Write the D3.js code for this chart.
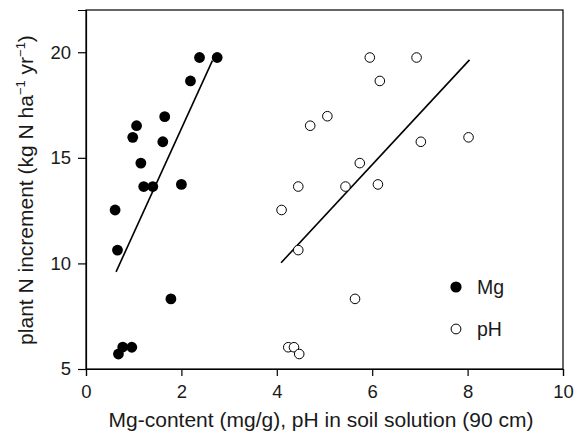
<!DOCTYPE html>
<html>
<head>
<meta charset="utf-8">
<script src="https://cdn.jsdelivr.net/npm/d3@7"></script>
<style>
  html, body { margin: 0; padding: 0; background: #fff; }
  svg { display: block; font-family: "Liberation Sans", Arial, Helvetica, sans-serif; }
</style>
</head>
<body>
<svg id="chart" width="575" height="432"></svg>
<script>
// Mg content (mg/g) against plant N increment
const mgX = [2.38, 2.75, 2.19, 1.65, 1.06, 0.98, 1.61, 1.15, 1.21, 1.40, 2.00, 0.61, 0.66, 1.78, 0.68, 0.77, 0.96];
const mgY = [19.75, 19.75, 18.64, 16.95, 16.52, 15.97, 15.76, 14.75, 13.64, 13.64, 13.74, 12.53, 10.63, 8.32, 5.71, 6.04, 6.03];

// soil solution pH (90 cm) against plant N increment
const phX = [5.95, 6.93, 6.16, 5.06, 4.70, 7.02, 8.02, 5.74, 4.45, 5.44, 6.12, 4.10, 4.45, 5.64, 4.24, 4.36, 4.47];
const phY = [19.75, 19.75, 18.64, 16.97, 16.52, 15.76, 15.97, 14.75, 13.64, 13.64, 13.74, 12.53, 10.63, 8.32, 6.03, 6.03, 5.71];

// fitted regression lines (end points)
const mgFitX = [0.63, 2.65];
const mgFitY = [9.6, 19.6];
const phFitX = [4.09, 8.04];
const phFitY = [10.03, 19.64];

const xTicks = [0, 2, 4, 6, 8, 10];
const yTicks = [5, 10, 15, 20];
const legendLabels = ["Mg", "pH"];

const margin = { left: 86, top: 10, right: 12, bottom: 63 };
const W = 575, H = 432;
const svg = d3.select("#chart");
const ink = "#1a1a1a";

const x = d3.scaleLinear().domain([0, 10]).range([margin.left, W - margin.right]);
const y = d3.scaleLinear().domain([5, 22]).range([H - margin.bottom, margin.top]);

// frame
svg.append("rect")
  .attr("x", x(0)).attr("y", y(22))
  .attr("width", x(10) - x(0)).attr("height", y(5) - y(22))
  .attr("fill", "none").attr("stroke", "#000").attr("stroke-width", 1.2);

// axes
const xAxis = svg.append("g")
  .attr("transform", `translate(0,${y(5)})`)
  .call(d3.axisBottom(x).tickValues(xTicks).tickFormat(d3.format("d")).tickSize(7).tickPadding(9));
const yAxis = svg.append("g")
  .attr("transform", `translate(${x(0)},0)`)
  .call(d3.axisLeft(y).tickValues(yTicks).tickFormat(d3.format("d")).tickSize(8).tickPadding(7));
[xAxis, yAxis].forEach(g => {
  g.select(".domain").attr("stroke-width", 1.2);
  g.selectAll(".tick line").attr("stroke-width", 1.2);
  g.selectAll("text").attr("font-size", 18.5).attr("fill", ink)
    .attr("font-family", "Liberation Sans, Arial, sans-serif");
});

// regression lines
const line = d3.line().x(d => x(d[0])).y(d => y(d[1]));
svg.append("path").datum(d3.zip(mgFitX, mgFitY))
  .attr("d", line).attr("stroke", "#000").attr("stroke-width", 1.6).attr("fill", "none");
svg.append("path").datum(d3.zip(phFitX, phFitY))
  .attr("d", line).attr("stroke", "#000").attr("stroke-width", 1.6).attr("fill", "none");

// points
svg.append("g").selectAll("circle").data(d3.zip(mgX, mgY)).join("circle")
  .attr("cx", d => x(d[0])).attr("cy", d => y(d[1])).attr("r", 5.4)
  .attr("fill", "#000");
svg.append("g").selectAll("circle").data(d3.zip(phX, phY)).join("circle")
  .attr("cx", d => x(d[0])).attr("cy", d => y(d[1])).attr("r", 4.8)
  .attr("fill", "#fff").attr("stroke", "#000").attr("stroke-width", 1);

// legend
const legend = svg.append("g");
legendLabels.forEach((lab, i) => {
  const cy = 287 + i * 42;
  legend.append("circle").attr("cx", 456).attr("cy", cy)
    .attr("r", i === 0 ? 5.6 : 4.9)
    .attr("fill", i === 0 ? "#000" : "#fff")
    .attr("stroke", "#000").attr("stroke-width", i === 0 ? 0 : 1);
  legend.append("text").attr("x", 477).attr("y", cy + 7)
    .attr("font-size", 19.5).attr("fill", ink).text(lab);
});

// axis titles
svg.append("text")
  .attr("x", 321).attr("y", 427)
  .attr("text-anchor", "middle").attr("font-size", 21).attr("fill", ink)
  .text("Mg-content (mg/g), pH in soil solution (90 cm)");

const yt = svg.append("text")
  .attr("transform", "translate(33,190) rotate(-90)")
  .attr("text-anchor", "middle").attr("font-size", 21).attr("fill", ink);
yt.append("tspan").text("plant N increment (kg N ha");
yt.append("tspan").attr("dy", -8).attr("font-size", 13).text("\u22121");
yt.append("tspan").attr("dy", 8).text(" yr");
yt.append("tspan").attr("dy", -8).attr("font-size", 13).text("\u22121");
yt.append("tspan").attr("dy", 8).text(")");
</script>
</body>
</html>
